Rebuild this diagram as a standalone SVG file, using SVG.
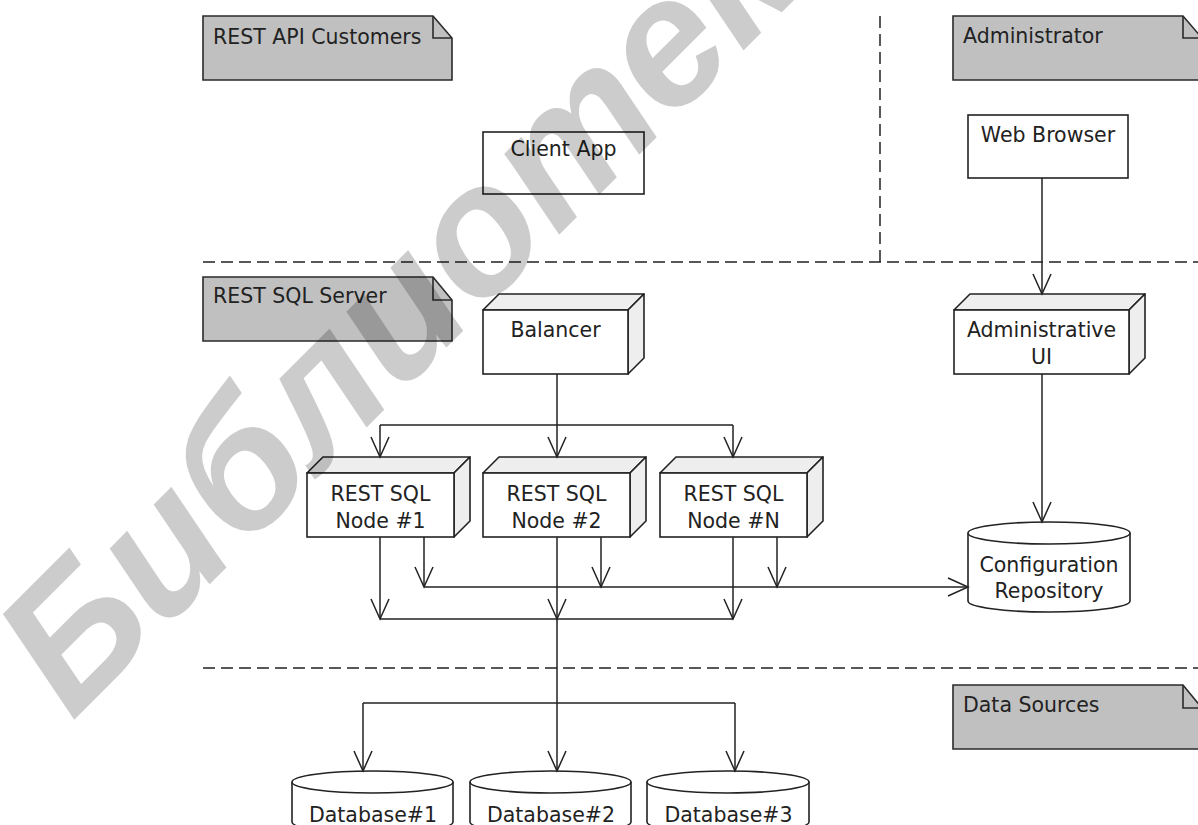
<svg xmlns="http://www.w3.org/2000/svg" width="1198" height="825" viewBox="0 0 1198 825">
<style>
text{font-family:"DejaVu Sans","Liberation Sans",sans-serif;font-size:20.5px;fill:#222}
.c{text-anchor:middle}
.note{fill:#c0c0c0;stroke:#2a2a2a;stroke-width:1.6}
.fold{fill:none;stroke:#2a2a2a;stroke-width:1.6}
.box{fill:#fff;stroke:#222;stroke-width:1.6}
.side{fill:#eee;stroke:#222;stroke-width:1.6;stroke-linejoin:round}
.dash{fill:none;stroke:#222;stroke-width:1.5;stroke-dasharray:12 6}
.ln{fill:none;stroke:#222;stroke-width:1.5}
.ar{fill:none;stroke:#222;stroke-width:1.5;marker-end:url(#v)}
.wm{font-family:"Liberation Sans",Arial,sans-serif;font-style:italic;font-weight:bold;font-size:182px;fill:#000;fill-opacity:0.2}
</style>
<defs>
<marker id="v" viewBox="-22 -11 24 22" refX="0" refY="0" markerWidth="24" markerHeight="22" markerUnits="userSpaceOnUse" orient="auto" overflow="visible">
<path d="M-20,-9 L0,0 L-20,9" fill="none" stroke="#222" stroke-width="1.5"/>
</marker>
</defs>
<rect width="1198" height="825" fill="#fff"/>
<g id="separators">
<path class="dash" d="M203,262 H1198"/>
<path class="dash" d="M880,16 V262"/>
<path class="dash" d="M203,668 H1198"/>
</g>
<g id="note-rest-api-customers">
<path class="note" d="M203,16 H433 L452,38 V80 H203 Z"/>
<path class="fold" d="M433,16 V38 H452"/>
<text x="213" y="44">REST API Customers</text>
</g>
<g id="note-administrator">
<path class="note" d="M953,16 H1183 L1202,38 V80 H953 Z"/>
<path class="fold" d="M1183,16 V38 H1202"/>
<text x="963" y="43">Administrator</text>
</g>
<g id="note-rest-sql-server">
<path class="note" d="M203,277 H433 L452,300 V341 H203 Z"/>
<path class="fold" d="M433,277 V300 H452"/>
<text x="213" y="303">REST SQL Server</text>
</g>
<g id="note-data-sources">
<path class="note" d="M953,685 H1183 L1202,708 V749 H953 Z"/>
<path class="fold" d="M1183,685 V708 H1202"/>
<text x="963" y="712">Data Sources</text>
</g>
<g id="client-app">
<rect class="box" x="483" y="132" width="161" height="62"/>
<text class="c" x="563.5" y="156">Client App</text>
</g>
<g id="web-browser">
<rect class="box" x="968" y="115" width="160" height="63"/>
<text class="c" x="1048" y="142">Web Browser</text>
</g>
<g id="balancer">
<path class="side" d="M483,310 L499,294 H644 L628,310 Z"/>
<path class="side" d="M628,310 L644,294 V358 L628,374 Z"/>
<rect class="box" x="483" y="310" width="145" height="64"/>
<text class="c" x="555.5" y="337">Balancer</text>
</g>
<g id="administrative-ui">
<path class="side" d="M954,310 L970,294 H1145 L1129,310 Z"/>
<path class="side" d="M1129,310 L1145,294 V358 L1129,374 Z"/>
<rect class="box" x="954" y="310" width="175" height="64"/>
<text class="c" x="1041.5" y="337">Administrative</text>
<text class="c" x="1041.5" y="364">UI</text>
</g>
<g id="rest-sql-node-1">
<path class="side" d="M307,473 L323,457 H470 L454,473 Z"/>
<path class="side" d="M454,473 L470,457 V521 L454,537 Z"/>
<rect class="box" x="307" y="473" width="147" height="64"/>
<text class="c" x="380.5" y="501">REST SQL</text>
<text class="c" x="380.5" y="528">Node #1</text>
</g>
<g id="rest-sql-node-2">
<path class="side" d="M483,473 L499,457 H646 L630,473 Z"/>
<path class="side" d="M630,473 L646,457 V521 L630,537 Z"/>
<rect class="box" x="483" y="473" width="147" height="64"/>
<text class="c" x="556.5" y="501">REST SQL</text>
<text class="c" x="556.5" y="528">Node #2</text>
</g>
<g id="rest-sql-node-n">
<path class="side" d="M660,473 L676,457 H823 L807,473 Z"/>
<path class="side" d="M807,473 L823,457 V521 L807,537 Z"/>
<rect class="box" x="660" y="473" width="147" height="64"/>
<text class="c" x="733.5" y="501">REST SQL</text>
<text class="c" x="733.5" y="528">Node #N</text>
</g>
<g id="configuration-repository">
<path class="box" d="M968,533 V601 A81,11 0 0 0 1130,601 V533"/>
<ellipse class="box" cx="1049" cy="533" rx="81" ry="11"/>
<text class="c" x="1049" y="572">Configuration</text>
<text class="c" x="1049" y="598">Repository</text>
</g>
<g id="database-1">
<path class="box" d="M292,782 V822 A80.5,11 0 0 0 453,822 V782"/>
<ellipse class="box" cx="372.5" cy="782" rx="80.5" ry="11"/>
<text class="c" x="373" y="822">Database#1</text>
</g>
<g id="database-2">
<path class="box" d="M470,782 V822 A80.5,11 0 0 0 631,822 V782"/>
<ellipse class="box" cx="550.5" cy="782" rx="80.5" ry="11"/>
<text class="c" x="551" y="822">Database#2</text>
</g>
<g id="database-3">
<path class="box" d="M647,782 V822 A81,11 0 0 0 809,822 V782"/>
<ellipse class="box" cx="728" cy="782" rx="81" ry="11"/>
<text class="c" x="728.5" y="822">Database#3</text>
</g>
<g id="connectors">
<path class="ar" d="M1042,178 V294"/>
<path class="ar" d="M1042,374 V522"/>
<path class="ln" d="M380,425 H733"/>
<path class="ar" d="M557,374 V457"/>
<path class="ar" d="M380,425 V457"/>
<path class="ar" d="M733,425 V457"/>
<path class="ar" d="M424,537 V587"/>
<path class="ar" d="M601,537 V587"/>
<path class="ar" d="M777,537 V587"/>
<path class="ar" d="M424,587 H968"/>
<path class="ar" d="M380,537 V619"/>
<path class="ar" d="M733,537 V619"/>
<path class="ar" d="M557,537 V619"/>
<path class="ln" d="M380,619 H733"/>
<path class="ln" d="M557,619 V703"/>
<path class="ln" d="M363,703 H735"/>
<path class="ar" d="M363,703 V771"/>
<path class="ar" d="M557,703 V771"/>
<path class="ar" d="M735,703 V771"/>
</g>
<g id="watermark">
<text class="wm" x="72" y="722" transform="rotate(-45 72 722)">Библиотека</text>
</g>
</svg>
